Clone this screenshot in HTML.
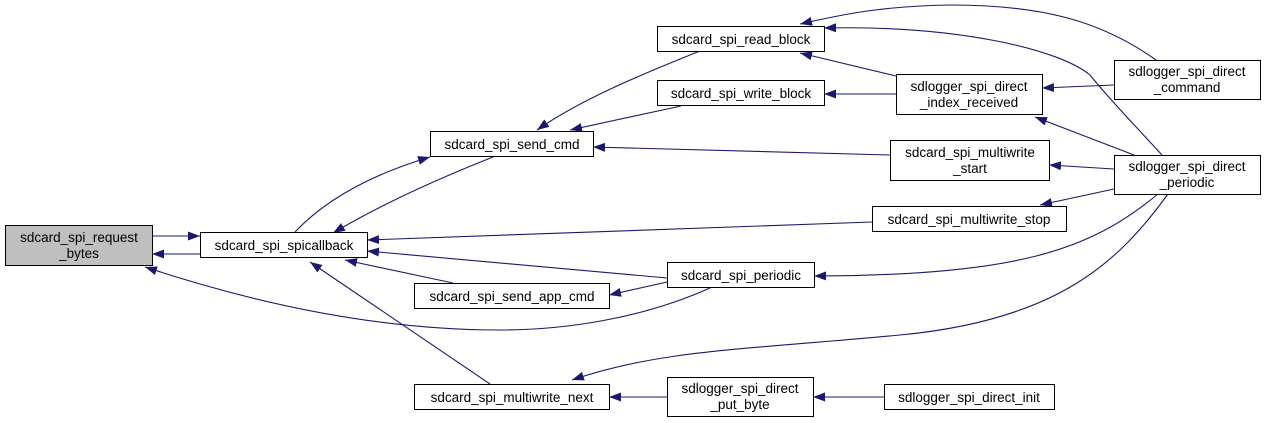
<!DOCTYPE html>
<html><head><meta charset="utf-8"><style>
html,body{margin:0;padding:0;background:#fff;width:1265px;height:423px;overflow:hidden}
text{font-family:"Liberation Sans","DejaVu Sans",sans-serif;font-size:13.5px;fill:#000}
</style></head><body>
<svg width="1265" height="423" viewBox="0 0 1265 423" xmlns="http://www.w3.org/2000/svg">
<defs><marker id="a" viewBox="0 0 12 9" refX="12" refY="4.5" markerWidth="12" markerHeight="9" markerUnits="userSpaceOnUse" orient="auto"><path d="M0,0L12,4.5L0,9z" fill="#191970"/></marker></defs>
<g fill="none" stroke="#191970" stroke-width="1.1" marker-end="url(#a)">
<path d="M152,236H200"/>
<path d="M200,254H152"/>
<path d="M712,287C640,320 560,330 500,330C380,330 260,305 145,267"/>
<path d="M295,232C330,195 380,172 430,157"/>
<path d="M493,157C440,178 380,205 333,233"/>
<path d="M872,222L367,240"/>
<path d="M667,278L367,251"/>
<path d="M453,283L345,260"/>
<path d="M490,384L310,262"/>
<path d="M700,51C640,75 580,100 537,130"/>
<path d="M681,106L570,130"/>
<path d="M890,155L593,147"/>
<path d="M896,76L800,53"/>
<path d="M896,94H824"/>
<path d="M1156,60C1100,20 1040,5 950,5C880,6 840,15 800,24"/>
<path d="M1162,155C1130,120 1110,100 1090,75C1060,50 960,25 824,28"/>
<path d="M1114,85L1042,88"/>
<path d="M1134,155L1035,117"/>
<path d="M1114,169L1049,165"/>
<path d="M1114,189L1040,205"/>
<path d="M1158,194C1090,250 1020,275 814,276"/>
<path d="M1168,194C1120,260 1060,320 900,335C740,350 660,350 572,380"/>
<path d="M667,282L609,295"/>
<path d="M667,397H609"/>
<path d="M884,397H813"/>
</g>
<g stroke="#000" stroke-width="1" fill="#fff">
<rect x="5.5" y="225.5" width="147" height="40" fill="#bfbfbf"/>
<rect x="200.5" y="232.5" width="167" height="25"/>
<rect x="430.5" y="131.5" width="163" height="25"/>
<rect x="414.5" y="283.5" width="195" height="25"/>
<rect x="414.5" y="384.5" width="195" height="25"/>
<rect x="657.5" y="26.5" width="167" height="25"/>
<rect x="657.5" y="80.5" width="167" height="25"/>
<rect x="896.5" y="74.5" width="146" height="40"/>
<rect x="890.5" y="140.5" width="159" height="40"/>
<rect x="872.5" y="206.5" width="194" height="25"/>
<rect x="667.5" y="262.5" width="147" height="25"/>
<rect x="1114.5" y="60.5" width="146" height="39"/>
<rect x="1114.5" y="155.5" width="146" height="39"/>
<rect x="667.5" y="377.5" width="146" height="39"/>
<rect x="884.5" y="384.5" width="170" height="25"/>
</g>
<g text-anchor="middle">
<text x="79" y="242">sdcard_spi_request</text><text x="79" y="258">_bytes</text>
<text x="284" y="250">sdcard_spi_spicallback</text>
<text x="512" y="149">sdcard_spi_send_cmd</text>
<text x="512" y="301">sdcard_spi_send_app_cmd</text>
<text x="512" y="402">sdcard_spi_multiwrite_next</text>
<text x="741" y="44">sdcard_spi_read_block</text>
<text x="741" y="98">sdcard_spi_write_block</text>
<text x="969" y="91">sdlogger_spi_direct</text><text x="969" y="107">_index_received</text>
<text x="970" y="157">sdcard_spi_multiwrite</text><text x="970" y="173">_start</text>
<text x="969" y="224">sdcard_spi_multiwrite_stop</text>
<text x="741" y="280">sdcard_spi_periodic</text>
<text x="1187" y="76">sdlogger_spi_direct</text><text x="1187" y="92">_command</text>
<text x="1187" y="171">sdlogger_spi_direct</text><text x="1187" y="187">_periodic</text>
<text x="740" y="393">sdlogger_spi_direct</text><text x="740" y="409">_put_byte</text>
<text x="969" y="402">sdlogger_spi_direct_init</text>
</g>
</svg>
</body></html>
